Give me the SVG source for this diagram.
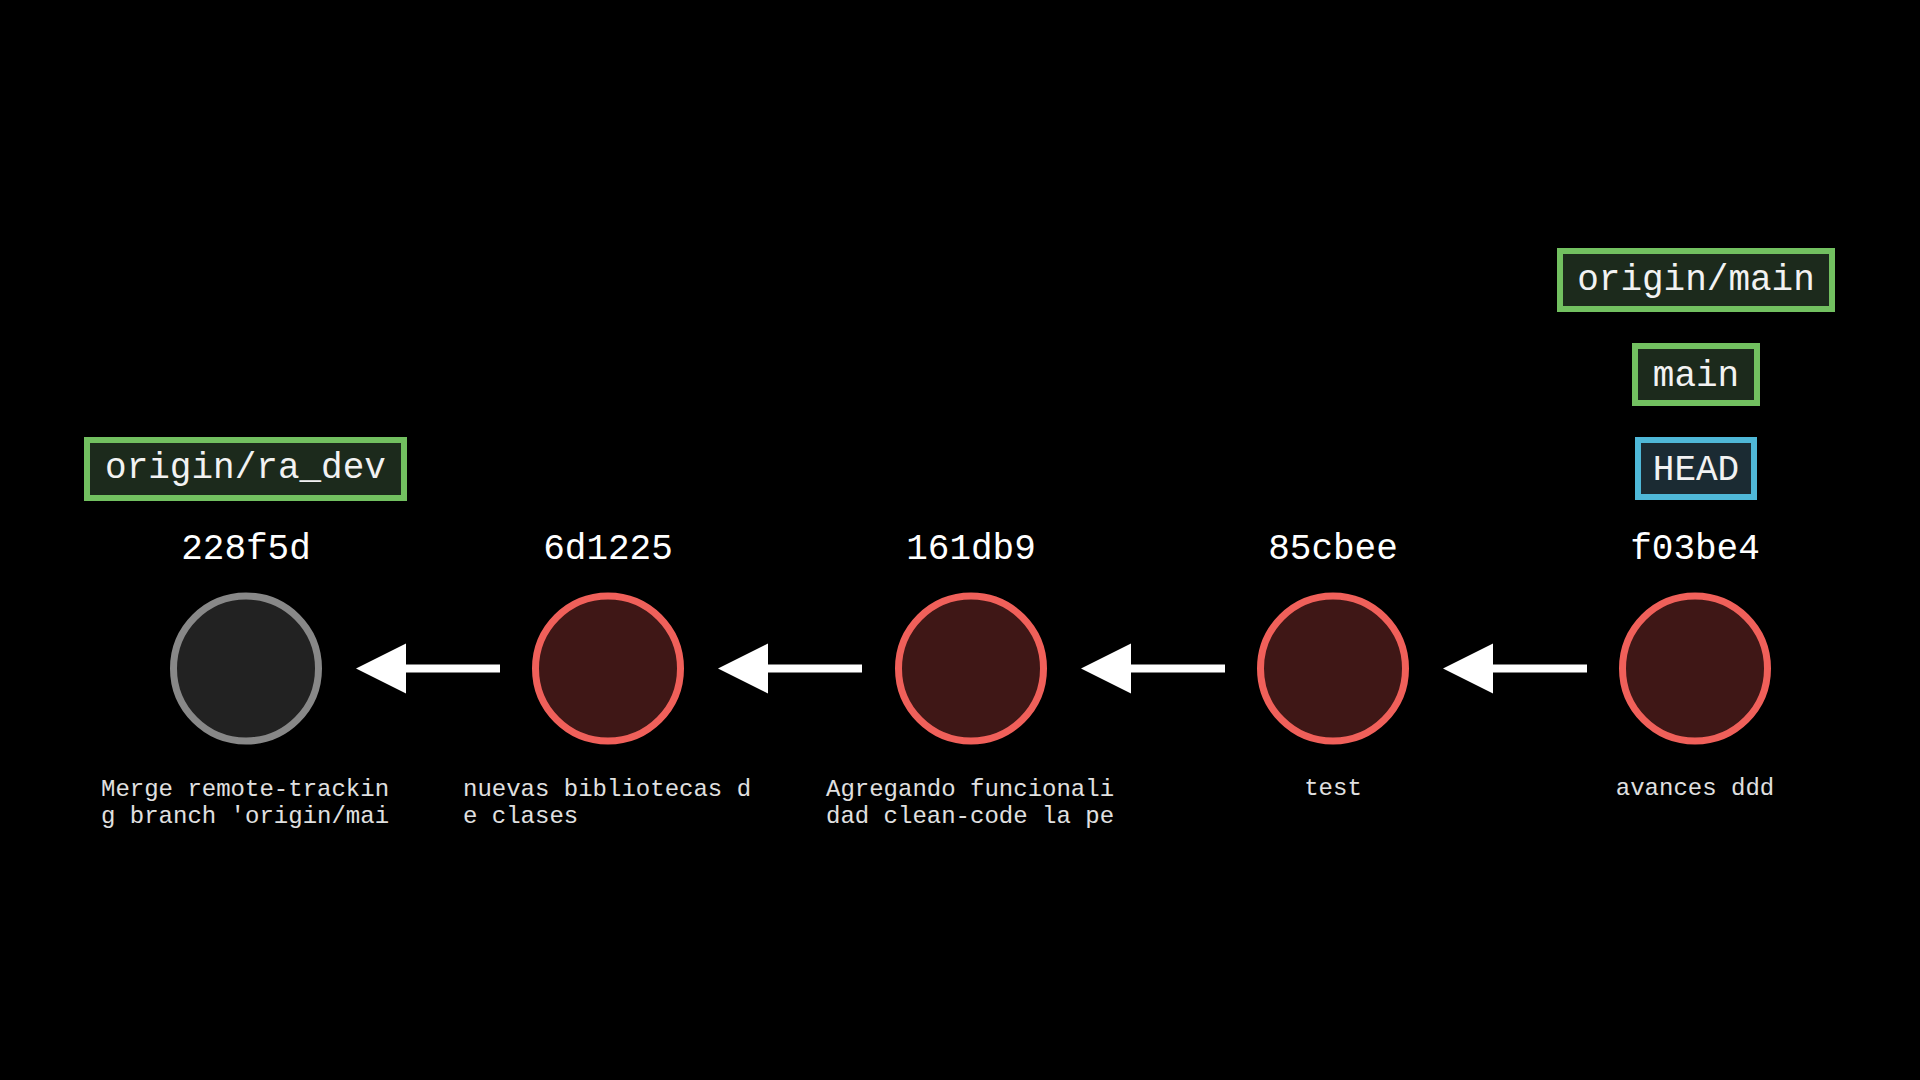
<svg xmlns="http://www.w3.org/2000/svg" width="1920" height="1080" viewBox="0 0 1920 1080">
<style>
.hash{font-family:"Liberation Mono","Courier New",monospace;font-size:36px;fill:#ffffff;text-anchor:middle}
.msg{font-family:"Liberation Mono","Courier New",monospace;font-size:24px;fill:#e0e0e0}
.mid{text-anchor:middle}
.lbl{font-family:"Liberation Mono","Courier New",monospace;font-size:36px;fill:#f2f2f2;text-anchor:middle}
.commit{fill:#3f1716;stroke:#f0605a;stroke-width:7}
.merged{fill:#222222;stroke:#888888;stroke-width:7}
.branch{fill:#1c2a1c;stroke:#72c060;stroke-width:6}
.head{fill:#1b2b33;stroke:#4fb8d8;stroke-width:6}
.edge{stroke:#ffffff;stroke-width:8;fill:none}
</style>
<defs>
<marker id="ah" markerUnits="userSpaceOnUse" markerWidth="50" markerHeight="50" refX="0" refY="25" orient="auto-start-reverse">
<path d="M0,25 L50,0 L50,50 Z" fill="#ffffff"/>
</marker>
</defs>
<rect width="1920" height="1080" fill="#000000"/>
<g id="connectors">
<line class="edge" x1="500" y1="668.5" x2="400" y2="668.5"/>
<path d="M356,668.5 L406,643.5 L406,693.5 Z" fill="#ffffff"/>
<line class="edge" x1="862" y1="668.5" x2="762" y2="668.5"/>
<path d="M718,668.5 L768,643.5 L768,693.5 Z" fill="#ffffff"/>
<line class="edge" x1="1225" y1="668.5" x2="1125" y2="668.5"/>
<path d="M1081,668.5 L1131,643.5 L1131,693.5 Z" fill="#ffffff"/>
<line class="edge" x1="1587" y1="668.5" x2="1487" y2="668.5"/>
<path d="M1443,668.5 L1493,643.5 L1493,693.5 Z" fill="#ffffff"/>
</g>
<g id="commit-228f5d">
<circle class="merged" cx="246" cy="668.5" r="72.5"/>
<text class="hash" x="246" y="559">228f5d</text>
<text class="msg" x="101" y="796">Merge remote-trackin</text>
<text class="msg" x="101" y="823">g branch 'origin/mai</text>
</g>
<g id="commit-6d1225">
<circle class="commit" cx="608" cy="668.5" r="72.5"/>
<text class="hash" x="608" y="559">6d1225</text>
<text class="msg" x="463" y="796">nuevas bibliotecas d</text>
<text class="msg" x="463" y="823">e clases</text>
</g>
<g id="commit-161db9">
<circle class="commit" cx="971" cy="668.5" r="72.5"/>
<text class="hash" x="971" y="559">161db9</text>
<text class="msg" x="826" y="796">Agregando funcionali</text>
<text class="msg" x="826" y="823">dad clean-code la pe</text>
</g>
<g id="commit-85cbee">
<circle class="commit" cx="1333" cy="668.5" r="72.5"/>
<text class="hash" x="1333" y="559">85cbee</text>
<text class="msg mid" x="1333" y="795">test</text>
</g>
<g id="commit-f03be4">
<circle class="commit" cx="1695" cy="668.5" r="72.5"/>
<text class="hash" x="1695" y="559">f03be4</text>
<text class="msg mid" x="1695" y="795">avances ddd</text>
</g>
<g id="label-origin-ra-dev">
<rect class="branch" x="87" y="440" width="317" height="58"/>
<text class="lbl" x="245.5" y="478">origin/ra_dev</text>
</g>
<g id="label-origin-main">
<rect class="branch" x="1560" y="251" width="272" height="58"/>
<text class="lbl" x="1696" y="290">origin/main</text>
</g>
<g id="label-main">
<rect class="branch" x="1635" y="346" width="122" height="57"/>
<text class="lbl" x="1696" y="386">main</text>
</g>
<g id="label-head">
<rect class="head" x="1638" y="440" width="116" height="57"/>
<text class="lbl" x="1696" y="480">HEAD</text>
</g>
</svg>
